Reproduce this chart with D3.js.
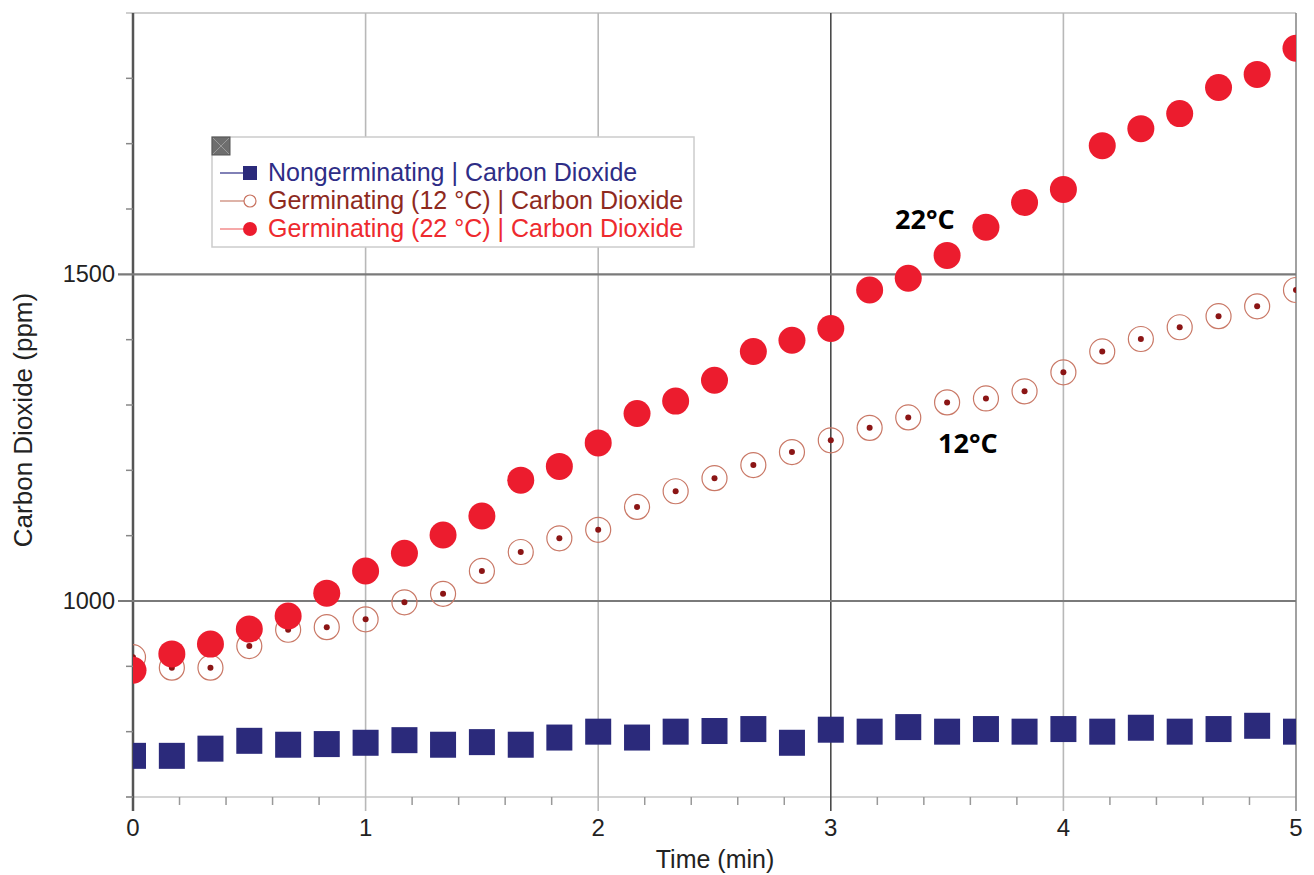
<!DOCTYPE html>
<html>
<head>
<meta charset="utf-8">
<script src="https://cdn.jsdelivr.net/npm/d3@7"></script>
<style>
body{margin:0;background:#fff}
svg{display:block;font-family:"Liberation Sans",Arial,sans-serif}
.note{font-family:"Open Sans",sans-serif;font-weight:700;font-size:27px;fill:#000}
</style>
</head>
<body>
<svg id="chart" width="1314" height="875"></svg>
<script>
// time in minutes, one reading every 10 s
var times=[0,0.167,0.333,0.5,0.667,0.833,1,1.167,1.333,1.5,1.667,1.833,2,2.167,2.333,2.5,2.667,2.833,3,3.167,3.333,3.5,3.667,3.833,4,4.167,4.333,4.5,4.667,4.833,5];
var nonGerm=[763,763,774,786,780,781,783,787,780,784,780,791,800,791,800,801,804,783,803,800,807,800,804,800,804,800,806,800,804,809,800];
var germ12=[914,898,898,931,956,960,972,998,1011,1046,1075,1096,1109,1144,1168,1188,1208,1228,1246,1265,1281,1304,1310,1321,1350,1382,1401,1419,1436,1451,1476];
var germ22=[894,919,934,957,977,1012,1046,1073,1101,1130,1185,1206,1242,1287,1306,1338,1382,1399,1417,1476,1494,1529,1572,1610,1630,1697,1723,1746,1786,1806,1846];
var legendNames=["Nongerminating | Carbon Dioxide","Germinating (12 °C) | Carbon Dioxide","Germinating (22 °C) | Carbon Dioxide"];
var xMajor=[0,1,2,3,4,5];
var xMinor=[0.2,0.4,0.6,0.8,1.2,1.4,1.6,1.8,2.2,2.4,2.6,2.8,3.2,3.4,3.6,3.8,4.2,4.4,4.6,4.8];
var yMajor=[1000,1500];
var yMinor=[700,800,900,1100,1200,1300,1400,1600,1700,1800];

var svg=d3.select("#chart");
var x=d3.scaleLinear().domain([0,5]).range([133,1296]);
var y=d3.scaleLinear().domain([700,1900]).range([797,13]);

svg.append("defs").append("clipPath").attr("id","plot")
	.append("rect").attr("x",x(0)).attr("y",y(1900)).attr("width",x(5)-x(0)).attr("height",y(700)-y(1900));

// frame
svg.append("line").attr("x1",126).attr("x2",x(5)).attr("y1",y(1900)).attr("y2",y(1900)).attr("stroke","#cfcfcf").attr("stroke-width",2);
svg.append("line").attr("x1",126).attr("x2",x(5)).attr("y1",y(700)).attr("y2",y(700)).attr("stroke","#d4d4d4").attr("stroke-width",2);

// vertical grid + major x ticks
svg.selectAll(".vgrid").data(xMajor).enter().append("line")
	.attr("x1",d=>x(d)).attr("x2",d=>x(d)).attr("y1",y(1900)).attr("y2",y(700)+14)
	.attr("stroke",d=>d==0?"#555":(d==3?"#4a4a4a":(d==5?"#8a8a8a":"#b8b8b8")))
	.attr("stroke-width",d=>d==0?2.5:1.6);

// horizontal grid + major y ticks
svg.selectAll(".hgrid").data(yMajor).enter().append("line")
	.attr("x1",118).attr("x2",x(5)).attr("y1",d=>y(d)).attr("y2",d=>y(d))
	.attr("stroke","#7a7a7a").attr("stroke-width",2.2);

svg.selectAll(".xmin").data(xMinor).enter().append("line")
	.attr("x1",d=>x(d)).attr("x2",d=>x(d)).attr("y1",y(700)).attr("y2",y(700)+8)
	.attr("stroke","#999").attr("stroke-width",1.5);
svg.selectAll(".ymin").data(yMinor).enter().append("line")
	.attr("x1",126).attr("x2",x(0)).attr("y1",d=>y(d)).attr("y2",d=>y(d))
	.attr("stroke","#888").attr("stroke-width",1.5);

// tick labels
svg.selectAll(".xl").data(xMajor).enter().append("text")
	.attr("x",d=>x(d)).attr("y",836).attr("text-anchor","middle")
	.attr("font-size",24).attr("fill","#222").text(d=>d);
svg.selectAll(".yl").data(yMajor).enter().append("text")
	.attr("x",115).attr("y",d=>y(d)+8).attr("text-anchor","end")
	.attr("font-size",23.5).attr("fill","#222").text(d=>d);

svg.append("text").attr("x",715).attr("y",868).attr("text-anchor","middle")
	.attr("font-size",25).attr("fill","#222").text("Time (min)");
svg.append("text").attr("transform","translate(32,420) rotate(-90)").attr("text-anchor","middle")
	.attr("font-size",26).attr("fill","#222").text("Carbon Dioxide (ppm)");

// data
var plot=svg.append("g").attr("clip-path","url(#plot)");
var sq=26;
plot.selectAll(".sq").data(nonGerm).enter().append("rect")
	.attr("x",(d,i)=>x(times[i])-sq/2).attr("y",d=>y(d)-sq/2)
	.attr("width",sq).attr("height",sq).attr("fill","#2b2a7b");
plot.selectAll(".c12").data(germ12).enter().append("circle")
	.attr("cx",(d,i)=>x(times[i])).attr("cy",d=>y(d)).attr("r",12.5)
	.attr("fill","none").attr("stroke","#c97866").attr("stroke-width",1.2);
plot.selectAll(".d12").data(germ12).enter().append("circle")
	.attr("cx",(d,i)=>x(times[i])).attr("cy",d=>y(d)).attr("r",3)
	.attr("fill","#8b1515");
plot.selectAll(".c22").data(germ22).enter().append("circle")
	.attr("cx",(d,i)=>x(times[i])).attr("cy",d=>y(d)).attr("r",13.5)
	.attr("fill","#ec1c2e");

// annotations
svg.append("text").attr("class","note").attr("x",895).attr("y",229).text("22°C");
svg.append("text").attr("class","note").attr("x",938).attr("y",453).text("12°C");

// legend
var lg=svg.append("g");
lg.append("rect").attr("x",212).attr("y",137).attr("width",482).attr("height",110)
	.attr("fill","#fff").attr("stroke","#cccccc").attr("stroke-width",1.5);
lg.append("rect").attr("x",212).attr("y",137).attr("width",18).attr("height",18).attr("fill","#6e6e6e").attr("stroke","#555");
lg.append("path").attr("d","M213,138L229,154M229,138L213,154").attr("stroke","#999").attr("stroke-width",1);
var lgCol=["#2e2d86","#8e2a1e","#ee2a2e"];
var rows=[173,201,229];
legendNames.forEach(function(n,i){
	lg.append("line").attr("x1",220).attr("x2",250).attr("y1",rows[i]).attr("y2",rows[i])
		.attr("stroke",i==0?"#2e2d86":(i==1?"#c8806f":"#f07070")).attr("stroke-width",1.2);
	if(i==0){
		lg.append("rect").attr("x",243).attr("y",rows[i]-7).attr("width",14).attr("height",14).attr("fill","#2b2a7b");
	}else if(i==1){
		lg.append("circle").attr("cx",250).attr("cy",rows[i]).attr("r",6).attr("fill","#fff").attr("stroke","#c8725f").attr("stroke-width",1.2);
	}else{
		lg.append("circle").attr("cx",250).attr("cy",rows[i]).attr("r",7).attr("fill","#ec1c2e");
	}
	lg.append("text").attr("x",268).attr("y",rows[i]+8).attr("font-size",25)
		.attr("fill",lgCol[i]).text(n);
});
</script>
</body>
</html>
